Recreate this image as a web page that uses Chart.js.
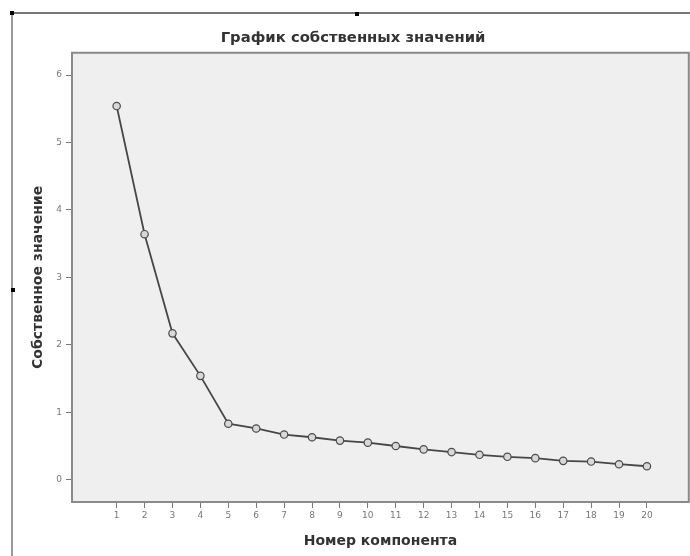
<!DOCTYPE html>
<html>
<head>
<meta charset="utf-8">
<script src="https://cdn.jsdelivr.net/npm/chart.js@4/dist/chart.umd.min.js"></script>
<style>
  body { margin: 0; background: #fff; }
  #wrap { position: relative; width: 690px; height: 556px; overflow: hidden; }
  #frame { position: absolute; left: 11px; top: 12px; width: 700px; height: 600px;
           border-top: 2px solid #777; border-left: 2px solid #999; }
  .handle { position: absolute; width: 4px; height: 4px; background: #000; }
  #c { position: absolute; left: 0; top: 0; }
</style>
</head>
<body>
<div id="wrap">
  <div id="frame"></div>
  <div class="handle" style="left:10px;top:11px"></div>
  <div class="handle" style="left:355px;top:12px"></div>
  <div class="handle" style="left:11px;top:288px"></div>
  <canvas id="c" width="694" height="556"></canvas>
</div>
<script>
// component numbers and their eigenvalues
const components = [1, 2, 3, 4, 5, 6, 7, 8, 9, 10, 11, 12, 13, 14, 15, 16, 17, 18, 19, 20];
const eigenvalues = [5.54, 3.64, 2.17, 1.54, 0.83, 0.76, 0.67, 0.63, 0.58, 0.55,
                     0.50, 0.45, 0.41, 0.37, 0.34, 0.32, 0.28, 0.27, 0.23, 0.20];
const yTicks = [0, 1, 2, 3, 4, 5, 6];

const plotFrame = {
    id: 'plotFrame',
    beforeDraw(chart) {
        const a = chart.chartArea, ctx = chart.ctx;
        ctx.save();
        ctx.fillStyle = '#efefef';
        ctx.fillRect(a.left, a.top, a.right - a.left, a.bottom - a.top);
        ctx.restore();
    },
    beforeDatasetsDraw(chart) {
        const a = chart.chartArea, ctx = chart.ctx;
        ctx.save();
        ctx.strokeStyle = '#8a8a8a';
        ctx.lineWidth = 2;
        ctx.strokeRect(a.left, a.top, a.right - a.left, a.bottom - a.top);
        ctx.restore();
    }
};

function initializeScreePlot() {
    const context = document.getElementById('c').getContext('2d');
    new Chart(context, {
        type: 'line',
        data: {
            datasets: [{
                data: components.map((c, i) => ({x: c, y: eigenvalues[i]})),
                borderColor: '#474747',
                borderWidth: 1.8,
                pointRadius: 3.7,
                pointBorderWidth: 1.2,
                pointBorderColor: '#4a4a4a',
                pointBackgroundColor: '#d8d8d8',
                tension: 0
            }]
        },
        options: {
            responsive: false,
            animation: false,
            layout: { padding: { left: 16, right: 4, top: 0, bottom: 0 } },
            plugins: {
                legend: { display: false },
                tooltip: { enabled: false },
                title: {
                    display: true,
                    text: 'График собственных значений',
                    color: '#333',
                    font: { family: 'DejaVu Sans', size: 14.8, weight: 'bold' },
                    padding: { top: 29, bottom: 6 }
                }
            },
            scales: {
                x: {
                    type: 'linear',
                    min: -0.6,
                    max: 21.5,
                    afterBuildTicks: (scale) => { scale.ticks = components.map(v => ({value: v})); },
                    afterFit: (scale) => { scale.height = 54; },
                    ticks: { color: '#777', font: { family: 'DejaVu Sans', size: 9 }, padding: 2, maxRotation: 0, autoSkip: false },
                    grid: { drawOnChartArea: false, drawTicks: true, tickLength: 6, color: '#777', tickWidth: 1 },
                    border: { display: false },
                    title: {
                        display: true,
                        text: 'Номер компонента',
                        color: '#333',
                        font: { family: 'DejaVu Sans', size: 14, weight: 'bold' },
                        padding: { top: 4, bottom: 6 }
                    }
                },
                y: {
                    min: -0.33,
                    max: 6.33,
                    afterBuildTicks: (scale) => { scale.ticks = yTicks.map(v => ({value: v})); },
                    afterFit: (scale) => { scale.width = 56; },
                    ticks: { color: '#777', font: { family: 'DejaVu Sans', size: 9 }, padding: 4 },
                    grid: { drawOnChartArea: false, drawTicks: true, tickLength: 6, color: '#777', tickWidth: 1 },
                    border: { display: false },
                    title: {
                        display: true,
                        text: 'Собственное значение',
                        color: '#333',
                        font: { family: 'DejaVu Sans', size: 14, weight: 'bold' },
                        padding: { top: 14, bottom: 4 }
                    }
                }
            }
        },
        plugins: [plotFrame]
    });
}

window.onload = () => {
    initializeScreePlot();
};
</script>
</body>
</html>
